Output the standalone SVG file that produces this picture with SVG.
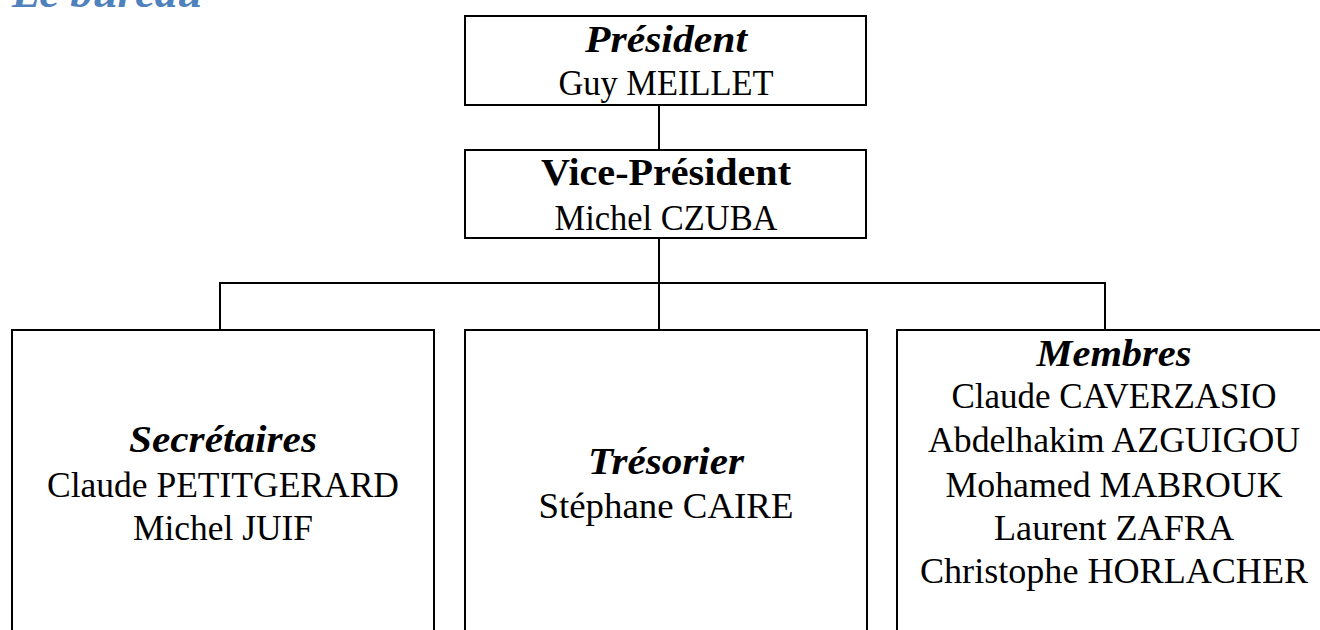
<svg xmlns="http://www.w3.org/2000/svg" width="1320" height="630" viewBox="0 0 1320 630">
<style>
  .box { fill: #ffffff; stroke: #000000; stroke-width: 2; }
  .conn { fill: none; stroke: #000000; stroke-width: 2; }
  text { font-family: "Liberation Serif", "Times New Roman", serif; fill: #000000; text-anchor: middle; }
  .name { font-size: 36px; }
  .head { font-size: 38px; font-weight: bold; font-style: italic; }
  .headb { font-size: 38px; font-weight: bold; }
  .title { font-size: 44px; font-weight: bold; font-style: italic; fill: #4f81bd; text-anchor: start; }
</style>
<rect width="1320" height="630" fill="#ffffff"/>
<text class="title" x="12" y="7" textLength="190" lengthAdjust="spacingAndGlyphs">Le bureau</text>
<g id="connectors">
  <path class="conn" d="M659 105 V150"/>
  <path class="conn" d="M659 238 V330"/>
  <path class="conn" d="M220 330 V283 H1105 V330"/>
</g>
<g id="president">
  <rect class="box" x="465" y="16" width="401" height="89"/>
  <text class="head" x="666" y="52" textLength="162" lengthAdjust="spacingAndGlyphs">Président</text>
  <text class="name" x="666" y="95" textLength="215" lengthAdjust="spacingAndGlyphs">Guy MEILLET</text>
</g>
<g id="vice-president">
  <rect class="box" x="465" y="150" width="401" height="88"/>
  <text class="headb" x="666" y="185" textLength="250" lengthAdjust="spacingAndGlyphs">Vice-Président</text>
  <text class="name" x="666" y="230" textLength="223" lengthAdjust="spacingAndGlyphs">Michel CZUBA</text>
</g>
<g id="secretaires">
  <rect class="box" x="12" y="330" width="422" height="310"/>
  <text class="head" x="223" y="452" textLength="188" lengthAdjust="spacingAndGlyphs">Secrétaires</text>
  <text class="name" x="223" y="497" textLength="352" lengthAdjust="spacingAndGlyphs">Claude PETITGERARD</text>
  <text class="name" x="223" y="540" textLength="180" lengthAdjust="spacingAndGlyphs">Michel JUIF</text>
</g>
<g id="tresorier">
  <rect class="box" x="465" y="330" width="402" height="310"/>
  <text class="head" x="666" y="474" textLength="156" lengthAdjust="spacingAndGlyphs">Trésorier</text>
  <text class="name" x="666" y="518" textLength="255" lengthAdjust="spacingAndGlyphs">Stéphane CAIRE</text>
</g>
<g id="membres">
  <rect class="box" x="897" y="330" width="440" height="310"/>
  <text class="head" x="1114" y="366" textLength="155" lengthAdjust="spacingAndGlyphs">Membres</text>
  <text class="name" x="1114" y="408" textLength="325" lengthAdjust="spacingAndGlyphs">Claude CAVERZASIO</text>
  <text class="name" x="1114" y="452" textLength="372" lengthAdjust="spacingAndGlyphs">Abdelhakim AZGUIGOU</text>
  <text class="name" x="1114" y="497" textLength="337" lengthAdjust="spacingAndGlyphs">Mohamed MABROUK</text>
  <text class="name" x="1114" y="540" textLength="240" lengthAdjust="spacingAndGlyphs">Laurent ZAFRA</text>
  <text class="name" x="1114" y="583" textLength="388" lengthAdjust="spacingAndGlyphs">Christophe HORLACHER</text>
</g>
</svg>
